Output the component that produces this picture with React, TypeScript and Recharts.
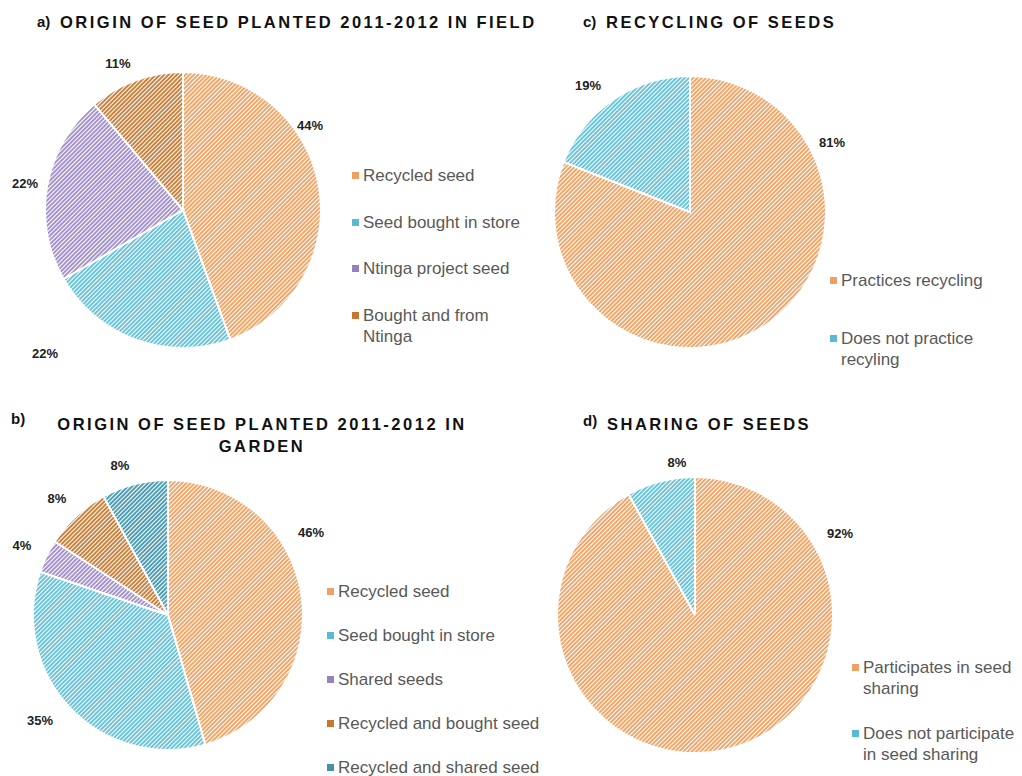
import React from "react"
import { PieChart, Pie, Cell } from "recharts"

// a) field
const fieldCategories = ["Recycled seed", "Seed bought in store", "Ntinga project seed", "Bought and from Ntinga"]
const fieldValues = [44, 22, 22, 11]
// b) garden
const gardenCategories = ["Recycled seed", "Seed bought in store", "Shared seeds", "Recycled and bought seed", "Recycled and shared seed"]
const gardenValues = [46, 35, 4, 8, 8]
// c) recycling
const recyclingCategories = ["Practices recycling", "Does not practice recyling"]
const recyclingValues = [81, 19]
// d) sharing
const sharingCategories = ["Participates in seed sharing", "Does not participate in seed sharing"]
const sharingValues = [92, 8]

const HATCH: Record<string, string> = {
  orange: "#f1a66a",
  blue: "#6cc4da",
  purple: "#a493cc",
  darkOrange: "#c9823f",
  teal: "#4f9db4",
}
const SWATCH: Record<string, string> = {
  orange: "#f0a061",
  blue: "#5bbad2",
  purple: "#9581bf",
  darkOrange: "#c47632",
  teal: "#4790a8",
}

const FONT = "'Liberation Sans', Arial, sans-serif"

interface PanelProps {
  categories: string[]
  values: number[]
  colors: string[]
  left: number
  top: number
  cx: number
  cy: number
  radius: number
  labelOffsets: number[][]
  legend: { left: number; top: number; width: number; gap: number }
}

function Panel({ categories, values, colors, left, top, cx, cy, radius, labelOffsets, legend }: PanelProps) {
  const data = categories.map((name, i) => ({ name, value: values[i] }))

  const renderLabel = (props: any) => {
    const off = labelOffsets[props.index] || [0, 0]
    return (
      <text
        x={props.cx + off[0]}
        y={props.cy + off[1]}
        textAnchor="middle"
        dominantBaseline="central"
        fontFamily={FONT}
        fontWeight="bold"
        fontSize={13}
        fill="#222"
      >
        {`${props.value}%`}
      </text>
    )
  }

  return (
    <div style={{ position: "absolute", left, top, width: 511, height: 388 }}>
      <PieChart width={511} height={388} margin={{ top: 0, right: 0, bottom: 0, left: 0 }}>
        <Pie
          data={data}
          dataKey="value"
          nameKey="name"
          cx={cx}
          cy={cy}
          outerRadius={radius}
          startAngle={90}
          endAngle={-270}
          stroke="#fff"
          strokeWidth={2}
          label={renderLabel}
          labelLine={false}
          isAnimationActive={false}
        >
          {data.map((d, i) => (
            <Cell key={d.name} fill={`url(#hatch-${colors[i]})`} />
          ))}
        </Pie>
      </PieChart>
      <div
        style={{
          position: "absolute",
          left: legend.left,
          top: legend.top,
          width: legend.width,
          fontFamily: FONT,
          fontSize: 17,
          lineHeight: "21px",
          color: "#595959",
        }}
      >
        {categories.map((c, i) => (
          <div key={c} style={{ display: "flex", alignItems: "flex-start", marginBottom: legend.gap }}>
            <span
              style={{
                display: "inline-block",
                width: 7,
                height: 7,
                marginTop: 7,
                marginRight: 4,
                flexShrink: 0,
                background: SWATCH[colors[i]],
              }}
            />
            <span>{c}</span>
          </div>
        ))}
      </div>
    </div>
  )
}

const titleStyle: React.CSSProperties = {
  position: "absolute",
  fontFamily: FONT,
  fontWeight: "bold",
  fontSize: 16.5,
  letterSpacing: 2.5,
  color: "#111",
  whiteSpace: "nowrap",
  lineHeight: "22px",
}
const letterStyle: React.CSSProperties = {
  position: "absolute",
  fontFamily: FONT,
  fontWeight: "bold",
  fontSize: 15,
  color: "#111",
  lineHeight: "22px",
}

export default function App() {
  return (
    <div style={{ position: "absolute", left: 0, top: 0, width: 1022, height: 776, background: "#fff", overflow: "hidden" }}>
      <svg width={0} height={0} style={{ position: "absolute" }}>
        <defs>
          {Object.keys(HATCH).map((k) => (
            <pattern
              key={k}
              id={`hatch-${k}`}
              width={3}
              height={3}
              patternUnits="userSpaceOnUse"
              patternTransform="rotate(45)"
            >
              <rect width={3} height={3} fill="#fff" />
              <rect width={2} height={3} fill={HATCH[k]} />
            </pattern>
          ))}
        </defs>
      </svg>

      <div style={{ ...letterStyle, left: 37, top: 11 }}>a)</div>
      <div style={{ ...titleStyle, left: 60, top: 11 }}>ORIGIN OF SEED PLANTED 2011-2012 IN FIELD</div>
      <div style={{ ...letterStyle, left: 583, top: 11 }}>c)</div>
      <div style={{ ...titleStyle, left: 606, top: 11 }}>RECYCLING OF SEEDS</div>
      <div style={{ ...letterStyle, left: 11, top: 408 }}>b)</div>
      <div style={{ ...titleStyle, left: 50, top: 413, width: 424, whiteSpace: "normal", textAlign: "center" }}>
        ORIGIN OF SEED PLANTED 2011-2012 IN GARDEN
      </div>
      <div style={{ ...letterStyle, left: 583, top: 410 }}>d)</div>
      <div style={{ ...titleStyle, left: 607, top: 413 }}>SHARING OF SEEDS</div>

      <Panel
        categories={fieldCategories}
        values={fieldValues}
        colors={["orange", "blue", "purple", "darkOrange"]}
        left={0}
        top={0}
        cx={183}
        cy={210}
        radius={138}
        labelOffsets={[[127, -85], [-138, 143], [-158, -27], [-65, -147]]}
        legend={{ left: 352, top: 165, width: 180, gap: 25.5 }}
      />
      <Panel
        categories={recyclingCategories}
        values={recyclingValues}
        colors={["orange", "blue"]}
        left={511}
        top={0}
        cx={179}
        cy={212}
        radius={136}
        labelOffsets={[[142, -70], [-102, -127]]}
        legend={{ left: 319, top: 270, width: 180, gap: 37 }}
      />
      <Panel
        categories={gardenCategories}
        values={gardenValues}
        colors={["orange", "blue", "purple", "darkOrange", "teal"]}
        left={0}
        top={388}
        cx={168}
        cy={227}
        radius={135}
        labelOffsets={[[143, -83], [-128, 105], [-146, -70], [-111, -117], [-48, -150]]}
        legend={{ left: 327, top: 193, width: 220, gap: 23 }}
      />
      <Panel
        categories={sharingCategories}
        values={sharingValues}
        colors={["orange", "blue"]}
        left={511}
        top={388}
        cx={184}
        cy={227}
        radius={138}
        labelOffsets={[[145, -82], [-18, -153]]}
        legend={{ left: 341, top: 269, width: 165, gap: 24 }}
      />
    </div>
  )
}
